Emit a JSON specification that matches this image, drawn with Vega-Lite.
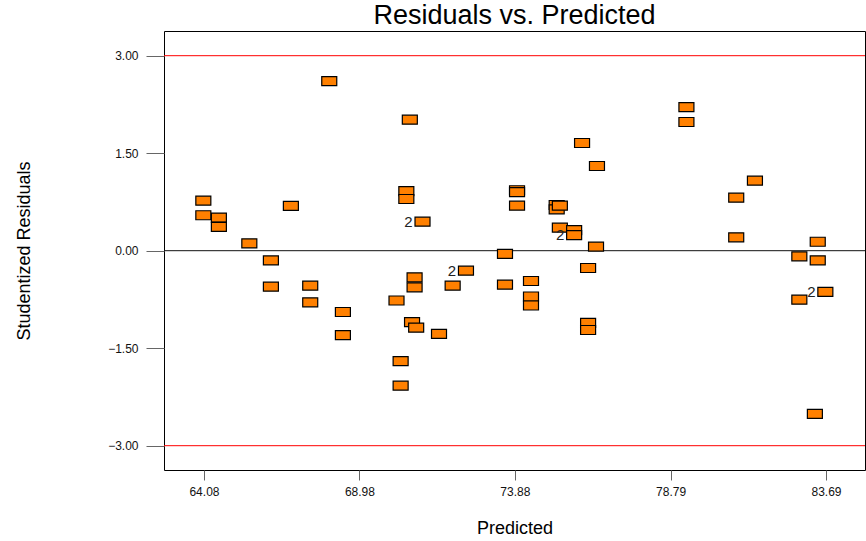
{
  "$schema": "https://vega.github.io/schema/vega-lite/v6.json",
  "autosize": {"type": "none"},
  "padding": {"left": 164, "top": 31, "right": 1, "bottom": 70},
  "width": 701,
  "height": 439,
  "background": "white",
  "config": {
    "font": "Liberation Sans",
    "view": {"stroke": "#000000", "strokeWidth": 1},
    "axis": {"grid": false, "domain": false, "tickColor": "#666666", "labelColor": "#111111", "titleColor": "#000000", "titleFontWeight": "normal", "labelFont": "Liberation Sans", "titleFont": "Liberation Sans"}
  },
  "title": {"text": "Residuals vs. Predicted", "fontSize": 27, "fontWeight": "normal", "color": "#000000", "anchor": "middle", "offset": 1, "font": "Liberation Sans"},
  "datasets": {
    "pts": [
      {"x": 64.06, "y": 0.77, "n": ""},
      {"x": 64.06, "y": 0.545, "n": ""},
      {"x": 64.55, "y": 0.51, "n": ""},
      {"x": 64.55, "y": 0.365, "n": ""},
      {"x": 65.51, "y": 0.113, "n": ""},
      {"x": 66.19, "y": -0.15, "n": ""},
      {"x": 66.19, "y": -0.554, "n": ""},
      {"x": 66.82, "y": 0.69, "n": ""},
      {"x": 67.43, "y": -0.538, "n": ""},
      {"x": 67.43, "y": -0.794, "n": ""},
      {"x": 68.03, "y": 2.608, "n": ""},
      {"x": 68.46, "y": -0.943, "n": ""},
      {"x": 68.46, "y": -1.3, "n": ""},
      {"x": 70.15, "y": -0.766, "n": ""},
      {"x": 70.28, "y": -1.7, "n": ""},
      {"x": 70.28, "y": -2.077, "n": ""},
      {"x": 70.46, "y": 0.918, "n": ""},
      {"x": 70.46, "y": 0.795, "n": ""},
      {"x": 70.57, "y": 2.015, "n": ""},
      {"x": 70.64, "y": -1.1, "n": ""},
      {"x": 70.77, "y": -1.185, "n": ""},
      {"x": 70.72, "y": -0.41, "n": ""},
      {"x": 70.72, "y": -0.563, "n": ""},
      {"x": 70.97, "y": 0.446, "n": "2"},
      {"x": 71.49, "y": -1.28, "n": ""},
      {"x": 71.92, "y": -0.538, "n": ""},
      {"x": 72.34, "y": -0.308, "n": "2"},
      {"x": 73.57, "y": -0.05, "n": ""},
      {"x": 73.57, "y": -0.523, "n": ""},
      {"x": 73.95, "y": 0.93, "n": ""},
      {"x": 73.95, "y": 0.9, "n": ""},
      {"x": 73.95, "y": 0.692, "n": ""},
      {"x": 74.39, "y": -0.466, "n": ""},
      {"x": 74.39, "y": -0.705, "n": ""},
      {"x": 74.39, "y": -0.843, "n": ""},
      {"x": 75.2, "y": 0.703, "n": ""},
      {"x": 75.2, "y": 0.637, "n": ""},
      {"x": 75.3, "y": 0.692, "n": ""},
      {"x": 75.3, "y": 0.354, "n": ""},
      {"x": 75.75, "y": 0.318, "n": ""},
      {"x": 75.75, "y": 0.24, "n": "2"},
      {"x": 76.0, "y": 1.657, "n": ""},
      {"x": 76.19, "y": -0.266, "n": ""},
      {"x": 76.19, "y": -1.112, "n": ""},
      {"x": 76.19, "y": -1.22, "n": ""},
      {"x": 76.47, "y": 1.303, "n": ""},
      {"x": 76.44, "y": 0.062, "n": ""},
      {"x": 79.29, "y": 2.21, "n": ""},
      {"x": 79.29, "y": 1.98, "n": ""},
      {"x": 80.86, "y": 0.815, "n": ""},
      {"x": 80.86, "y": 0.206, "n": ""},
      {"x": 81.45, "y": 1.077, "n": ""},
      {"x": 82.85, "y": -0.086, "n": ""},
      {"x": 82.85, "y": -0.754, "n": ""},
      {"x": 83.43, "y": 0.138, "n": ""},
      {"x": 83.43, "y": -0.148, "n": ""},
      {"x": 83.67, "y": -0.635, "n": "2"},
      {"x": 83.34, "y": -2.51, "n": ""}
    ]
  },
  "layer": [
    {
      "data": {"values": [{"y": 3}, {"y": -3}]},
      "mark": {"type": "rule", "color": "#ff0000", "strokeWidth": 1},
      "encoding": {"y": {"field": "y", "type": "quantitative", "scale": {"domain": [-3.374, 3.38], "nice": false, "zero": false}}}
    },
    {
      "data": {"values": [{"y": 0}]},
      "mark": {"type": "rule", "color": "#111111", "strokeWidth": 1},
      "encoding": {"y": {"field": "y", "type": "quantitative"}}
    },
    {
      "data": {"name": "pts"},
      "mark": {"type": "point", "shape": "M-1,-0.6H1V0.6H-1Z", "size": 225, "filled": true, "fill": "#ff8000", "stroke": "#000000", "strokeWidth": 1.2, "opacity": 1},
      "encoding": {
        "x": {"field": "x", "type": "quantitative", "scale": {"domain": [62.82, 84.92], "nice": false, "zero": false},
          "axis": {"title": "Predicted", "values": [64.08, 68.98, 73.88, 78.79, 83.69], "format": ".2f", "tickSize": 10, "labelFontSize": 12, "labelPadding": 6, "titleFontSize": 18, "titlePadding": 22}},
        "y": {"field": "y", "type": "quantitative",
          "axis": {"title": "Studentized Residuals", "values": [-3, -1.5, 0, 1.5, 3], "format": ".2f", "tickSize": 18, "labelFontSize": 12, "labelPadding": 8, "titleFontSize": 18, "titlePadding": 74}}
      }
    },
    {
      "data": {"name": "pts"},
      "transform": [{"filter": "datum.n == '2'"}],
      "mark": {"type": "text", "dx": -14, "fontSize": 15, "color": "#222222", "align": "center", "baseline": "middle"},
      "encoding": {
        "x": {"field": "x", "type": "quantitative"},
        "y": {"field": "y", "type": "quantitative"},
        "text": {"field": "n"}
      }
    }
  ]
}
